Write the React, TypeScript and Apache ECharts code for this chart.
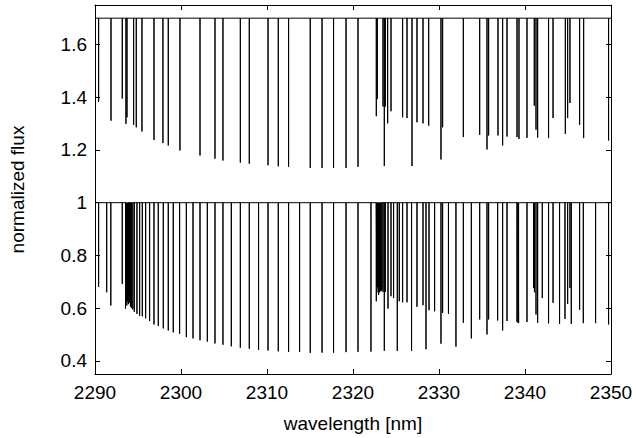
import { useEffect, useRef } from 'react';
import * as echarts from 'echarts';

const xMin = 2290;
const xMax = 2350;
const yMin = 0.35;
const yMax = 1.75;

const topBaseline = 1.7;
const bottomBaseline = 1.0;

const topWavelengths = [
  2290.42, 2291.86, 2293.17, 2293.6, 2293.72, 2294.49, 2294.8, 2295.46, 2296.86, 2297.9,
  2298.52, 2299.88, 2302.21, 2303.95, 2304.88, 2306.9, 2307.94, 2310.12, 2311.31, 2312.51,
  2315.03, 2316.4, 2317.74, 2319.19, 2320.58, 2322.71, 2322.83, 2323.49, 2323.64, 2323.76,
  2324.03, 2324.42, 2325.77, 2326.28, 2326.86, 2327.44, 2328.14, 2328.8, 2330.23, 2330.42,
  2332.83, 2334.73, 2335.58, 2335.77, 2336.86, 2337.4, 2337.91, 2339.07, 2339.3, 2340.23,
  2341.08, 2341.28, 2341.47, 2342.74, 2343.26, 2344.69, 2344.96, 2345.23, 2346.35, 2346.82,
  2349.72,
];
const topDepths = [
  1.383, 1.311, 1.395, 1.299, 1.324, 1.295, 1.286, 1.27, 1.238, 1.226,
  1.217, 1.198, 1.179, 1.167, 1.16, 1.152, 1.148, 1.142, 1.138, 1.136,
  1.132, 1.132, 1.132, 1.132, 1.136, 1.328, 1.393, 1.365, 1.139, 1.365,
  1.301, 1.347, 1.324, 1.321, 1.139, 1.305, 1.301, 1.292, 1.164, 1.286,
  1.249, 1.257, 1.202, 1.255, 1.255, 1.217, 1.251, 1.249, 1.242, 1.246,
  1.368, 1.277, 1.247, 1.245, 1.321, 1.261, 1.321, 1.378, 1.295, 1.245,
  1.236,
];

const bottomWavelengths = [
  2290.42, 2291.36, 2291.84, 2293.17, 2293.55, 2293.62, 2293.7, 2293.78, 2293.88, 2294.0,
  2294.12, 2294.25, 2294.4, 2294.57, 2294.88, 2295.19, 2295.5, 2295.89, 2296.35, 2296.86,
  2297.36, 2297.94, 2298.52, 2299.1, 2299.84, 2300.62, 2301.4, 2302.21, 2303.06, 2303.95,
  2304.88, 2305.85, 2306.9, 2307.94, 2309.02, 2310.12, 2311.31, 2312.51, 2313.79, 2315.03,
  2316.4, 2317.74, 2319.19, 2320.58, 2322.09, 2322.71, 2322.78, 2322.85, 2322.91, 2322.98,
  2323.04, 2323.1, 2323.18, 2323.26, 2323.36, 2323.49, 2323.64, 2323.76, 2324.07, 2324.42,
  2324.72, 2325.15, 2325.38, 2325.77, 2326.28, 2326.81, 2327.44, 2328.14, 2328.49, 2328.84,
  2329.49, 2330.23, 2330.42, 2331.1, 2331.97, 2332.83, 2333.76, 2334.73, 2335.58, 2335.77,
  2336.82, 2337.4, 2337.91, 2339.07, 2339.18, 2339.26, 2340.23, 2341.0, 2341.1, 2341.28,
  2341.47, 2342.01, 2342.74, 2343.26, 2344.02, 2344.65, 2344.96, 2345.23, 2345.38, 2346.35,
  2346.78, 2348.21, 2349.72,
];
const bottomDepths = [
  0.68, 0.66, 0.61, 0.692, 0.598, 0.63, 0.61, 0.625, 0.615, 0.62,
  0.605, 0.6, 0.595, 0.586, 0.578, 0.571, 0.569, 0.561, 0.551, 0.538,
  0.532, 0.523, 0.515, 0.508, 0.503, 0.49, 0.485, 0.478, 0.473, 0.466,
  0.461, 0.455, 0.45, 0.446, 0.441, 0.439, 0.436, 0.434, 0.434, 0.43,
  0.431, 0.431, 0.433, 0.434, 0.435, 0.626, 0.66, 0.68, 0.679, 0.65,
  0.67, 0.66, 0.665, 0.664, 0.67, 0.661, 0.438, 0.661, 0.598, 0.645,
  0.638, 0.438, 0.626, 0.622, 0.622, 0.438, 0.605, 0.611, 0.444, 0.592,
  0.588, 0.465, 0.582, 0.578, 0.454, 0.544, 0.485, 0.557, 0.5, 0.557,
  0.553, 0.515, 0.551, 0.547, 0.545, 0.543, 0.547, 0.676, 0.66, 0.576,
  0.544, 0.638, 0.542, 0.62, 0.54, 0.559, 0.616, 0.676, 0.54, 0.594,
  0.543, 0.543, 0.538,
];

function spikes(ws: number[], ds: number[], base: number): number[][] {
  const pts: number[][] = [[xMin, base]];
  ws.forEach((w, i) => {
    pts.push([w, base], [w, ds[i]], [w, base]);
  });
  pts.push([xMax, base]);
  return pts;
}

const FONT = 'Liberation Sans, Arial, Helvetica, sans-serif';
const FS = 19;

export default function App() {
  const ref = useRef<HTMLDivElement>(null);
  useEffect(() => {
    if (!ref.current) return;
    const chart = echarts.init(ref.current, undefined, { renderer: 'svg' });
    const axisLine = { show: true, onZero: false, lineStyle: { color: '#000', width: 1 } };
    const tick = { show: true, inside: true, length: 5, lineStyle: { color: '#000', width: 1 } };
    const yFmt = (v: number) => {
      if (Math.abs(v * 5 - Math.round(v * 5)) > 1e-6) return '';
      return String(Math.round(v * 10) / 10);
    };
    chart.setOption({
      animation: false,
      backgroundColor: '#fff',
      grid: { left: 95, right: 25, top: 5, bottom: 62, containLabel: false },
      xAxis: [
        {
          type: 'value', min: xMin, max: xMax, interval: 10, position: 'bottom',
          axisLine, axisTick: tick, splitLine: { show: false },
          axisLabel: { color: '#000', fontSize: FS, fontFamily: FONT, margin: 9, formatter: (v: number) => String(v) },
          name: 'wavelength [nm]', nameLocation: 'middle', nameGap: 40,
          nameTextStyle: { color: '#000', fontSize: FS, fontFamily: FONT },
        },
        {
          type: 'value', min: xMin, max: xMax, interval: 10, position: 'top',
          axisLine, axisTick: tick, splitLine: { show: false }, axisLabel: { show: false },
        },
      ],
      yAxis: [
        {
          type: 'value', min: yMin, max: yMax, splitNumber: 7, position: 'left',
          axisLine, axisTick: tick, splitLine: { show: false },
          axisLabel: { color: '#000', fontSize: FS, fontFamily: FONT, margin: 8, formatter: yFmt, showMinLabel: false, showMaxLabel: false },
          name: 'normalized flux', nameLocation: 'middle', nameGap: 68,
          nameTextStyle: { color: '#000', fontSize: FS, fontFamily: FONT },
        },
        {
          type: 'value', min: yMin, max: yMax, splitNumber: 7, position: 'right',
          axisLine, axisTick: tick, splitLine: { show: false }, axisLabel: { show: false },
        },
      ],
      series: [
        {
          type: 'line', xAxisIndex: 0, yAxisIndex: 0, data: spikes(topWavelengths, topDepths, topBaseline),
          showSymbol: false, symbol: 'none', silent: true,
          lineStyle: { color: '#000', width: 1, join: 'bevel' },
        },
        {
          type: 'line', xAxisIndex: 0, yAxisIndex: 0, data: spikes(bottomWavelengths, bottomDepths, bottomBaseline),
          showSymbol: false, symbol: 'none', silent: true,
          lineStyle: { color: '#000', width: 1, join: 'bevel' },
        },
      ],
    });
    return () => chart.dispose();
  }, []);
  return <div ref={ref} style={{ position: 'fixed', left: 0, top: 0, width: 636, height: 438 }} />;
}
